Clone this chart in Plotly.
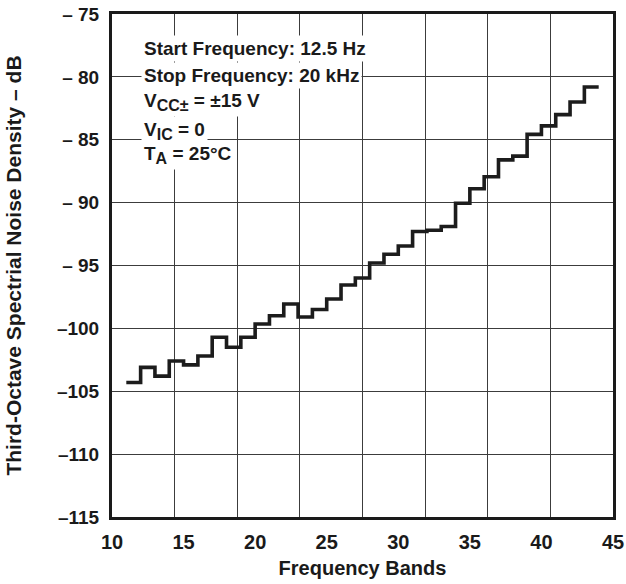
import plotly.graph_objects as go

# third-octave band index (each step spans band n .. n+1)
bandas = list(range(11, 44))
ruido_db = [
    -104.3, -103.1, -103.8, -102.6, -102.9, -102.2, -100.7, -101.5,
    -100.7, -99.65, -99.0, -98.06, -99.1, -98.5, -97.66, -96.55,
    -96.0, -94.8, -94.1, -93.45, -92.3, -92.2, -91.9, -90.05,
    -88.9, -87.94, -86.6, -86.3, -84.57, -83.9, -83.0, -82.0, -80.8,
]

x_ticks = [10, 15, 20, 25, 30, 35, 40, 45]
y_ticks = [-75, -80, -85, -90, -95, -100, -105, -110, -115]
y_tick_text = ["\u2013 75", "\u2013 80", "\u2013 85", "\u2013 90", "\u2013 95",
               "\u2013100", "\u2013105", "\u2013110", "\u2013115"]

notas = [
    "Start Frequency: 12.5 Hz",
    "Stop Frequency: 20 kHz",
    "V<sub><span style='font-size:16px'>CC\u00b1</span></sub> = \u00b115 V",
    "V<sub><span style='font-size:16px'>IC</span></sub> = 0",
    "T<sub><span style='font-size:16px'>A</span></sub> = 25\u00b0C",
]

fonte = "Liberation Sans, Arial, sans-serif"
cor_grade = "#3c3c3c"

fig = go.Figure()

# last band closes at the next band edge
x = bandas + [bandas[-1] + 1]
y = ruido_db + [ruido_db[-1]]
fig.add_trace(
    go.Scatter(
        x = x,
        y = y,
        mode = "lines",
        line = {'shape': 'hv', 'color': '#1c1c1c', 'width': 3.6},
        showlegend = False,
        hoverinfo = "skip"
    )
)

# text block, one annotation per line, white background hides the grid
y_notas = [0.932, 0.878, 0.826, 0.768, 0.720]
for txt, yy in zip(notas, y_notas):
    fig.add_annotation(
        x = 0.058, y = yy,
        xref = "paper", yref = "paper",
        xanchor = "left", yanchor = "middle",
        text = txt,
        showarrow = False,
        bgcolor = "white",
        borderpad = 2,
        font = dict(family = fonte, size = 19, color = "#1a1a1a", weight = "bold")
    )

fig.update_layout(
    width = 626,
    height = 584,
    margin = dict(l = 112, r = 13, t = 14, b = 67),
    paper_bgcolor = "white",
    plot_bgcolor = "white",
    font = dict(family = fonte, color = "#1a1a1a"),
)

fig.update_xaxes(
    range = [10, 45],
    tickvals = x_ticks,
    ticktext = [str(v) for v in x_ticks],
    automargin = False,
    showgrid = False,
    zeroline = False,
    showline = True,
    linecolor = "#1a1a1a",
    linewidth = 3,
    mirror = True,
    ticks = "outside",
    ticklen = 5,
    tickcolor = "rgba(0,0,0,0)",
    tickfont = dict(family = fonte, size = 20, weight = "bold"),
    minor = dict(tick0 = 10, dtick = 35 / 8, showgrid = True,
                 gridcolor = cor_grade, gridwidth = 1.3),
    title = dict(text = "Frequency Bands", standoff = 9,
                 font = dict(family = fonte, size = 20, weight = "bold")),
)

fig.update_yaxes(
    range = [-115, -75],
    tickvals = y_ticks,
    ticktext = y_tick_text,
    automargin = False,
    showgrid = True,
    gridcolor = cor_grade,
    gridwidth = 1.3,
    zeroline = False,
    showline = True,
    linecolor = "#1a1a1a",
    linewidth = 3,
    mirror = True,
    ticks = "outside",
    ticklen = 6,
    tickcolor = "rgba(0,0,0,0)",
    tickfont = dict(family = fonte, size = 19, weight = "bold"),
    title = dict(text = "Third-Octave Spectrial Noise Density \u2013 dB", standoff = 30,
                 font = dict(family = fonte, size = 21, weight = "bold")),
)

# page body has a default 8px margin; drop it so the figure sits at 0,0
fig.write_html(
    "out.html",
    config = {'displayModeBar': False},
    post_script = "document.body.style.margin = '0';"
)
